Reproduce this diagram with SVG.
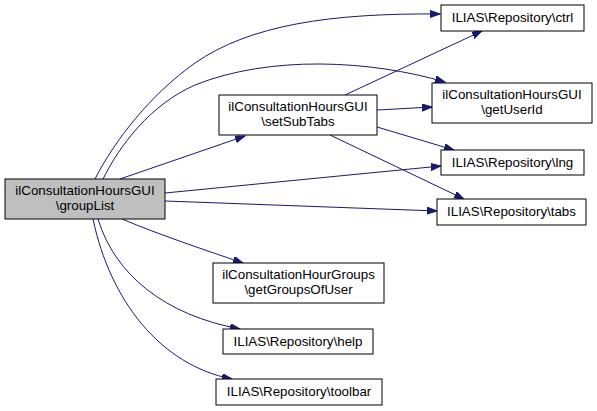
<svg xmlns="http://www.w3.org/2000/svg" width="597" height="411" viewBox="0 0 597 411">
<style>
.n rect{fill:#ffffff;stroke:#000000;stroke-width:1}
.n text{font-family:"Liberation Sans",Arial,sans-serif;font-size:13.33px;text-anchor:middle;fill:#000000}
.e path{fill:none;stroke:#191970;stroke-width:1;marker-end:url(#ah)}
</style>
<defs>
<marker id="ah" markerUnits="userSpaceOnUse" markerWidth="11" markerHeight="8" refX="10" refY="3.5" orient="auto">
<path d="M0,0 L10,3.5 L0,7 z" fill="#191970" stroke="#191970" stroke-width="1"/>
</marker>
</defs>
<rect width="597" height="411" fill="#ffffff"/>
<g id="edges" class="e">
<path d="M95,179 C115,140 150,95 195,63 C250,25 330,13 440,14"/>
<path d="M103,179 C120,145 150,105 195,85 C270,55 370,60 445,82"/>
<path d="M120,179 L245,136"/>
<path d="M165,193 L441,166"/>
<path d="M165,201 L437,211"/>
<path d="M122,219 C160,235 205,250 243,263"/>
<path d="M98,219 C115,275 165,315 240,329"/>
<path d="M93,219 C110,300 160,365 232,379"/>
<path d="M345,95 L482,31"/>
<path d="M377,110 L432,107"/>
<path d="M377,127 L454,150"/>
<path d="M330,135 L464,199"/>
</g>
<g id="node-groupList" class="n">
<rect x="5" y="179" width="160" height="40" style="fill:#bfbfbf"/>
<text x="85" y="195">ilConsultationHoursGUI</text>
<text x="85" y="210">\groupList</text>
</g>
<g id="node-setSubTabs" class="n">
<rect x="219" y="95" width="158" height="40"/>
<text x="298" y="111">ilConsultationHoursGUI</text>
<text x="298" y="126">\setSubTabs</text>
</g>
<g id="node-ctrl" class="n">
<rect x="441" y="5" width="143" height="26"/>
<text x="512.5" y="22">ILIAS\Repository\ctrl</text>
</g>
<g id="node-getUserId" class="n">
<rect x="432" y="83" width="160" height="40"/>
<text x="512" y="99">ilConsultationHoursGUI</text>
<text x="512" y="114">\getUserId</text>
</g>
<g id="node-lng" class="n">
<rect x="441" y="150" width="143" height="25"/>
<text x="512.5" y="167">ILIAS\Repository\lng</text>
</g>
<g id="node-tabs" class="n">
<rect x="437" y="199" width="149" height="26"/>
<text x="511.5" y="216">ILIAS\Repository\tabs</text>
</g>
<g id="node-getGroupsOfUser" class="n">
<rect x="213" y="263" width="171" height="40"/>
<text x="298.5" y="279">ilConsultationHourGroups</text>
<text x="298.5" y="294">\getGroupsOfUser</text>
</g>
<g id="node-help" class="n">
<rect x="223" y="329" width="150" height="25"/>
<text x="298" y="346">ILIAS\Repository\help</text>
</g>
<g id="node-toolbar" class="n">
<rect x="216" y="379" width="166" height="26"/>
<text x="299" y="396">ILIAS\Repository\toolbar</text>
</g>
</svg>
